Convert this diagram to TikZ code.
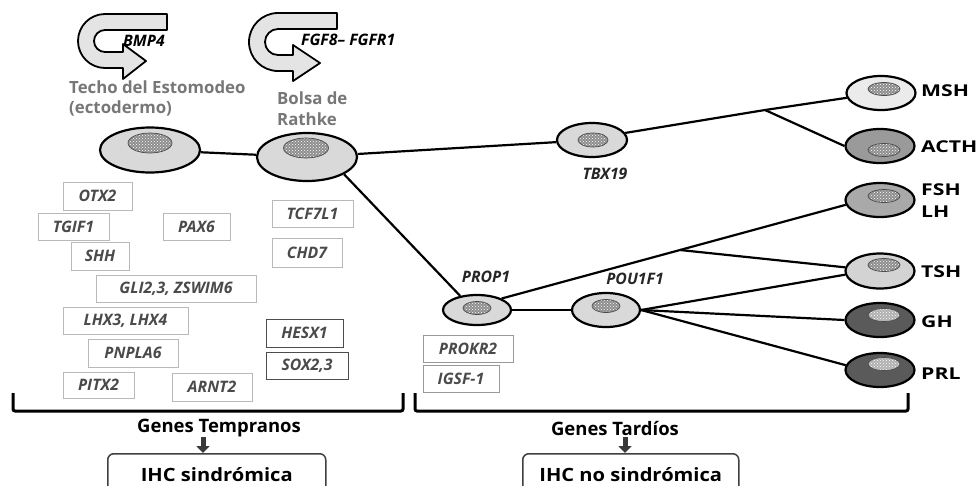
\documentclass[tikz,border=0pt]{standalone}
\usepackage{fontspec}
\setmainfont{Open Sans}
\newfontfamily\widefont[FakeStretch=1.3]{Open Sans}
\newfontfamily\midfont[FakeStretch=1.1]{Open Sans}
\usetikzlibrary{shapes.geometric,patterns,arrows.meta}
\definecolor{cellA}{HTML}{D9D9D9}
\definecolor{cellMSH}{HTML}{EBEBEB}
\definecolor{cellACTH}{HTML}{9A9A9A}
\definecolor{cellFSH}{HTML}{A9A9A9}
\definecolor{cellTSH}{HTML}{D3D3D3}
\definecolor{cellDark}{HTML}{5A5A5A}
\definecolor{nucl}{HTML}{8E8E8E}
\definecolor{nuclLight}{HTML}{B0B0B0}
\definecolor{capt}{HTML}{777777}
\definecolor{genetxt}{HTML}{4A4A4A}
\definecolor{arrowfill}{HTML}{E4E4E4}
\begin{document}
\begin{tikzpicture}[x=1pt,y=-1pt,
  cell/.style={ellipse, draw=black, line width=2.2pt, inner sep=0pt, fill=#1},
  nucleus/.style={ellipse, draw=black!70, line width=0.7pt, inner sep=0pt,
     preaction={fill=#1}, pattern=crosshatch dots, pattern color=white},
  link/.style={line width=2.2pt, black},
  gene/.style={draw=gray!55, line width=0.9pt, inner sep=0pt, minimum height=27pt,
     font=\bfseries\itshape\fontsize{15.8}{15.8}\selectfont, text=genetxt},
  genedark/.style={gene, draw=black!70},
  genemid/.style={gene, draw=gray!80},
  tflabel/.style={inner sep=0pt, font=\bfseries\itshape\fontsize{15.8}{15.8}\selectfont, text=black!85},
  hormone/.style={inner sep=0pt, anchor=west, align=left,
     font=\widefont\bfseries\fontsize{16.3}{22}\selectfont},
  caption/.style={inner sep=0pt, anchor=west, text=capt,
     font=\bfseries\fontsize{16.8}{16.8}\selectfont},
  bigarrow/.style={draw=black, line width=1.8pt, fill=arrowfill, line join=round},
  bracket/.style={line width=3pt, black, rounded corners=2pt},
  grouplabel/.style={inner sep=0pt, font=\bfseries\fontsize{18.5}{18.5}\selectfont},
  ihc/.style={draw=black!75, line width=1.5pt, rounded corners=6pt, inner sep=0pt,
     font=\midfont\bfseries\fontsize{18.3}{18.3}\selectfont},
  downarr/.style={line width=5pt, gray!45!black, -{Triangle[length=7pt,width=13pt]}}
]
\useasboundingbox (0,0) rectangle (979,485);
\clip (0,0) rectangle (979,485);
\fill[white] (0,0) rectangle (979,485);

% curved arrows
\draw[bigarrow] (167,14) -- (105,14) arc[start angle=90, end angle=270, radius=27pt]
  -- (123,68) -- (123,79) -- (146,61) -- (123,44) -- (123,52) -- (105,52)
  arc[start angle=270, end angle=90, radius=11pt] -- (167,30) -- cycle;
\draw[bigarrow] (337,13) -- (278,13) arc[start angle=90, end angle=270, radius=29pt]
  -- (293,71) -- (293,81) -- (320,63) -- (293,45) -- (293,55) -- (278,55)
  arc[start angle=270, end angle=90, radius=13pt] -- (337,29) -- cycle;
\node[tflabel, anchor=west, text=black] (bmp4) at (123,41) {BMP4};
\node[tflabel, anchor=west, text=black] (fgf8) at (301,40) {FGF8– FGFR1};

% captions
\node[caption] (techo1) at (69,87) {Techo del Estomodeo};
\node[caption] (techo2) at (69,108) {(ectodermo)};
\node[caption] (bolsa1) at (277,98) {Bolsa de};
\node[caption] (bolsa2) at (277,119) {Rathke};

% cells
\node[cell=cellA, minimum width=100pt, minimum height=45pt] (techo) at (150,150) {};
\node[cell=cellA, minimum width=100pt, minimum height=48pt] (bolsa) at (307,157) {};
\node[cell=cellA, minimum width=70pt, minimum height=34pt] (tbx19) at (592,140) {};
\node[cell=cellA, minimum width=68pt, minimum height=30pt] (prop1) at (477,310) {};
\node[cell=cellA, minimum width=68pt, minimum height=34pt] (pou1f1) at (606,310) {};
\node[cell=cellMSH, minimum width=69pt, minimum height=34pt] (msh) at (881,93) {};
\node[cell=cellACTH, minimum width=69pt, minimum height=34pt] (acth) at (880,146) {};
\node[cell=cellFSH, minimum width=69pt, minimum height=34pt] (fsh) at (880,200) {};
\node[cell=cellTSH, minimum width=69pt, minimum height=35pt] (tsh) at (880,271) {};
\node[cell=cellDark, minimum width=69pt, minimum height=34pt] (gh) at (880,320) {};
\node[cell=cellDark, minimum width=69pt, minimum height=34pt] (prl) at (880,370) {};

% nuclei
\node[nucleus=nucl, minimum width=44pt, minimum height=20pt] (n-techo) at (150,143) {};
\node[nucleus=nucl, minimum width=45pt, minimum height=20pt] (n-bolsa) at (306,148) {};
\node[nucleus=nucl, minimum width=30pt, minimum height=14pt] (n-tbx19) at (593,140) {};
\node[nucleus=nucl, minimum width=28pt, minimum height=13pt] (n-prop1) at (477,308) {};
\node[nucleus=nucl, minimum width=28pt, minimum height=13pt] (n-pou1f1) at (606,306) {};
\node[nucleus=nucl, minimum width=32pt, minimum height=13pt] (n-msh) at (884,89) {};
\node[nucleus=nucl, minimum width=32pt, minimum height=13pt] (n-acth) at (884,150) {};
\node[nucleus=nucl, minimum width=32pt, minimum height=13pt] (n-fsh) at (884,196) {};
\node[nucleus=nucl, minimum width=32pt, minimum height=13pt] (n-tsh) at (884,265) {};
\node[nucleus=nuclLight, minimum width=32pt, minimum height=13pt] (n-gh) at (884,315) {};
\node[nucleus=nuclLight, minimum width=32pt, minimum height=13pt] (n-prl) at (884,364) {};

% branch points
\coordinate (br-top) at (765,110);
\coordinate (br-mid) at (680,250);

% connectors
\draw[link] (techo) -- (bolsa);
\draw[link] (bolsa) -- (tbx19);
\draw[link] (bolsa.-25) -- (prop1.140);
\draw[link] (tbx19.12) -- (br-top) -- (msh.188);
\draw[link] (br-top) -- (acth.west);
\draw[link] (prop1) -- (pou1f1);
\draw[link] (prop1.25) -- (br-mid) -- (fsh.188);
\draw[link] (br-mid) -- (tsh.174);
\draw[link] (pou1f1.east) -- (tsh.-174);
\draw[link] (pou1f1.east) -- (gh.west);
\draw[link] (pou1f1.east) -- (prl.172);

% cell labels
\node[tflabel] (l-tbx19) at (605,174) {TBX19};
\node[tflabel] (l-prop1) at (486,277) {PROP1};
\node[tflabel] (l-pou1f1) at (635,279) {POU1F1};
\node[hormone] (l-msh) at (921,91) {MSH};
\node[hormone] (l-acth) at (921,147) {ACTH};
\node[hormone] (l-fsh) at (921,201) {FSH\\LH};
\node[hormone] (l-tsh) at (921,272) {TSH};
\node[hormone] (l-gh) at (921,322) {GH};
\node[hormone] (l-prl) at (921,374) {PRL};

% gene boxes
\node[gene, minimum width=69pt, minimum height=28pt] (otx2) at (97.5,196) {OTX2};
\node[gene, minimum width=71pt] (tgif1) at (73.5,226.5) {TGIF1};
\node[gene, minimum width=67pt] (pax6) at (196.5,226.5) {PAX6};
\node[gene, minimum width=81pt] (tcf7l1) at (312.5,213.5) {TCF7L1};
\node[gene, minimum width=58pt, minimum height=28pt] (shh) at (100,256) {SHH};
\node[gene, minimum width=70pt, minimum height=29pt] (chd7) at (307,252.5) {CHD7};
\node[gene, minimum width=160pt] (gli) at (176,288.5) {GLI2,3, ZSWIM6};
\node[gene, minimum width=125pt] (lhx) at (125.5,320.5) {LHX3, LHX4};
\node[genedark, minimum width=77pt, minimum height=28pt] (hesx1) at (304.5,333) {HESX1};
\node[gene, minimum width=90pt, minimum height=28pt] (pnpla6) at (133,353) {PNPLA6};
\node[genedark, minimum width=82pt] (sox) at (307,365.5) {SOX2,3};
\node[gene, minimum width=71pt, minimum height=26pt] (pitx2) at (98.5,385) {PITX2};
\node[gene, minimum width=80pt, minimum height=28pt] (arnt2) at (212,387) {ARNT2};
\node[genemid, minimum width=90pt] (prokr2) at (468,348.5) {PROKR2};
\node[genemid, minimum width=76pt] (igsf1) at (461,378.5) {IGSF-1};

% brackets
\draw[bracket] (13,393) -- (13,411) -- (403,411) -- (403,393);
\draw[bracket] (415,393) -- (415,411) -- (908,411) -- (908,393);

% bottom
\node[grouplabel] (gtemp) at (219,428) {Genes Tempranos};
\node[grouplabel] (gtard) at (615,428) {Genes Tardíos};
\node[ihc, minimum width=218pt, minimum height=42pt, anchor=north west] (ihc1) at (107,453) {IHC sindrómica};
\node[ihc, minimum width=216pt, minimum height=42pt, anchor=north west] (ihc2) at (522,453) {IHC no sindrómica};
\coordinate (a1s) at (203,437);
\coordinate (a1e) at (203,453);
\coordinate (a2s) at (625,437);
\coordinate (a2e) at (625,453);
\draw[downarr] (a1s) -- (a1e);
\draw[downarr] (a2s) -- (a2e);
\end{tikzpicture}
\end{document}
